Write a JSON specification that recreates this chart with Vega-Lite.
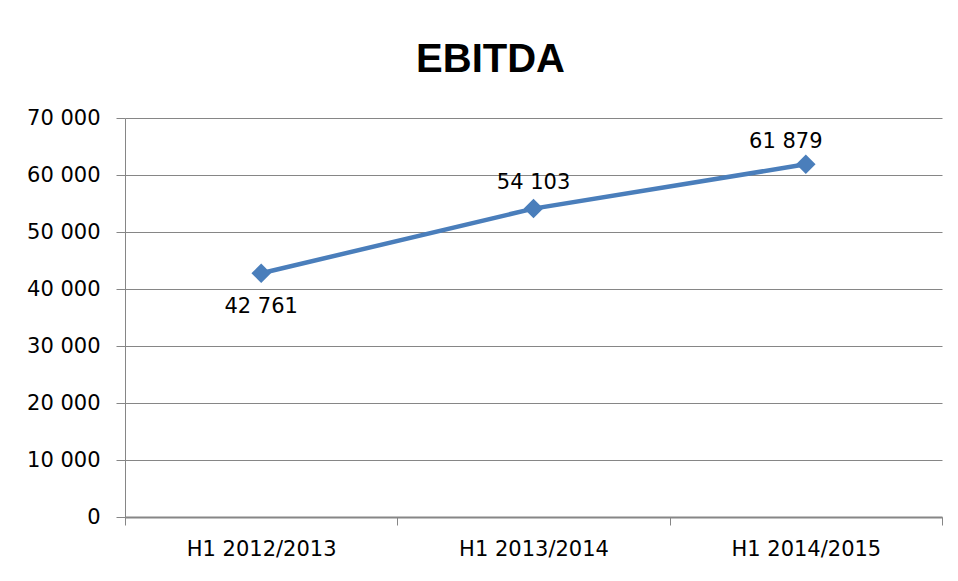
{
  "$schema": "https://vega.github.io/schema/vega-lite/v6.json",
  "width": 817,
  "height": 399,
  "autosize": {"type": "none"},
  "padding": {"left": 125, "top": 118, "right": 16, "bottom": 64},
  "background": "white",
  "config": {
    "locale": {"number": {"decimal": ",", "thousands": " ", "grouping": [3], "currency": ["", ""]}},
    "view": {"stroke": null},
    "font": "DejaVu Sans"
  },
  "title": {
    "text": "EBITDA",
    "font": "Liberation Sans",
    "fontSize": 40,
    "fontWeight": "bold",
    "color": "black",
    "anchor": "middle",
    "dx": -43,
    "dy": 40,
    "baseline": "alphabetic",
    "offset": 35
  },
  "data": {
    "values": [
      {"period": "H1 2012/2013", "ebitda": 42761},
      {"period": "H1 2013/2014", "ebitda": 54103},
      {"period": "H1 2014/2015", "ebitda": 61879}
    ]
  },
  "encoding": {
    "x": {
      "field": "period",
      "type": "nominal",
      "sort": null,
      "scale": {"type": "band", "paddingInner": 0, "paddingOuter": 0},
      "axis": {
        "title": null,
        "labelAngle": 0,
        "tickBand": "extent",
        "tickSize": 8,
        "tickColor": "#868686",
        "domainColor": "#868686",
        "domainWidth": 2,
        "labelFont": "DejaVu Sans",
        "labelFontSize": 21,
        "labelColor": "black",
        "labelPadding": 13,
        "grid": false
      }
    },
    "y": {
      "field": "ebitda",
      "type": "quantitative",
      "scale": {"domain": [0, 70000], "nice": false},
      "axis": {
        "title": null,
        "values": [0, 10000, 20000, 30000, 40000, 50000, 60000, 70000],
        "format": ",d",
        "tickSize": 9,
        "tickColor": "#868686",
        "domainColor": "#868686",
        "grid": true,
        "gridColor": "#868686",
        "gridOpacity": 1,
        "labelFont": "DejaVu Sans",
        "labelFontSize": 21,
        "labelColor": "black",
        "labelPadding": 16
      }
    }
  },
  "layer": [
    {"mark": {"type": "line", "color": "#4A7EBB", "strokeWidth": 4.5}},
    {"mark": {"type": "point", "shape": "diamond", "filled": true, "size": 380, "color": "#4A7EBB", "opacity": 1}},
    {
      "transform": [{"filter": "datum.period == 'H1 2012/2013'"}],
      "mark": {"type": "text", "dy": 40, "baseline": "alphabetic", "fontSize": 21, "color": "black"},
      "encoding": {"text": {"field": "ebitda", "type": "quantitative", "format": ",d"}}
    },
    {
      "transform": [{"filter": "datum.period == 'H1 2013/2014'"}],
      "mark": {"type": "text", "dy": -20, "baseline": "alphabetic", "fontSize": 21, "color": "black"},
      "encoding": {"text": {"field": "ebitda", "type": "quantitative", "format": ",d"}}
    },
    {
      "transform": [{"filter": "datum.period == 'H1 2014/2015'"}],
      "mark": {"type": "text", "dy": -16, "dx": -20, "baseline": "alphabetic", "fontSize": 21, "color": "black"},
      "encoding": {"text": {"field": "ebitda", "type": "quantitative", "format": ",d"}}
    }
  ]
}
